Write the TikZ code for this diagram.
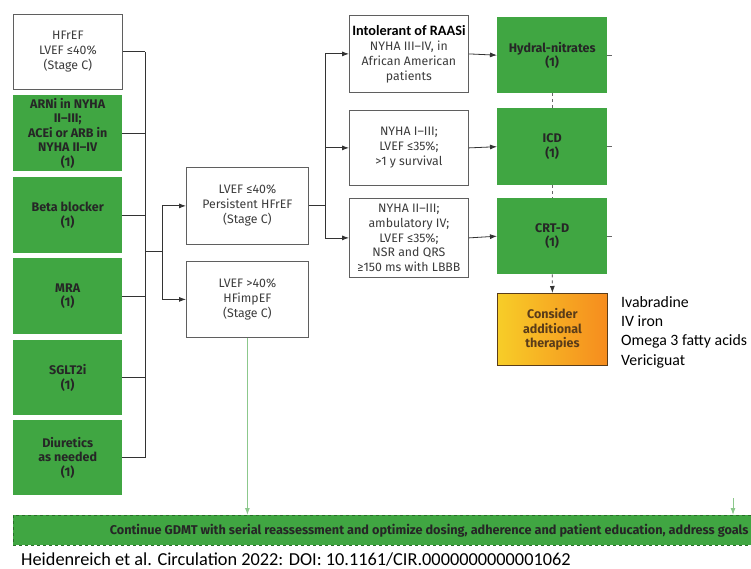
\documentclass[tikz,border=0pt]{standalone}
\usepackage{fontspec}
\setmainfont{Fira Sans}
\newfontfamily\calibri{Carlito}
\usetikzlibrary{calc, positioning, arrows.meta}
\definecolor{gdmtgreen}{RGB}{64,166,66}
\definecolor{gdmtdark}{RGB}{40,110,40}
\definecolor{flowgreen}{RGB}{140,200,140}
\definecolor{boxgray}{RGB}{95,95,95}
\definecolor{txtgray}{RGB}{60,60,60}
\definecolor{therayellow}{RGB}{247,205,40}
\definecolor{theraorange}{RGB}{246,140,30}
\definecolor{therabrown}{RGB}{90,60,25}

\begin{document}
\begin{tikzpicture}[x=1pt,y=-1pt,
  wbox/.style={draw=boxgray, line width=0.8pt, fill=white, text=txtgray, align=center,
    font=\fontsize{12.3}{15}\selectfont, inner sep=0pt, anchor=north west},
  gbox/.style={fill=gdmtgreen, text=black!85, align=center,
    font=\fontsize{12.5}{14.5}\selectfont\bfseries, inner sep=0pt, anchor=north west},
  link/.style={draw=black!80, line width=0.8pt},
  arr/.style={link, -{Latex[length=7pt,width=5pt]}},
  garr/.style={draw=flowgreen, line width=1pt, -{Latex[length=7pt,width=5pt]}},
  ]
\useasboundingbox (0,0) rectangle (751,569);

% left column
\node[wbox, minimum width=109pt, minimum height=75pt] (hfref) at (13,14) {HFrEF\\LVEF ≤40\%\\(Stage C)};
\node[gbox, minimum width=109pt, minimum height=76pt] (arni) at (13,95) {ARNi in NYHA\\II–III;\\ACEi or ARB in\\NYHA II–IV\\(1)};
\node[gbox, minimum width=109pt, minimum height=76pt] (beta) at (13,177) {Beta blocker\\(1)};
\node[gbox, minimum width=109pt, minimum height=76pt] (mra) at (13,258) {MRA\\(1)};
\node[gbox, minimum width=109pt, minimum height=75pt] (sglt) at (13,340) {SGLT2i\\(1)};
\node[gbox, minimum width=109pt, minimum height=75pt] (diur) at (13,420) {Diuretics\\as needed\\(1)};

\coordinate (jL) at (145,251);
\coordinate (jM) at (162,251);
\foreach \b in {hfref,arni,beta,mra,sglt,diur}
  \draw[link] (\b.east) -- (\b.east -| jL);
\draw[link] (hfref.east -| jL) -- (diur.east -| jL);
\draw[link] (jL) -- (jM);

% stage C after GDMT
\node[wbox, minimum width=122pt, minimum height=77pt] (persist) at (186,167) {LVEF ≤40\%\\Persistent HFrEF\\(Stage C)};
\node[wbox, minimum width=122pt, minimum height=76pt] (impef) at (186,261) {LVEF >40\%\\HFimpEF\\(Stage C)};
\draw[arr] (jM) |- (persist.west);
\draw[arr] (jM) |- (impef.west);

% criteria
\node[wbox, minimum width=119pt, minimum height=77pt] (intol) at (349,15) {{\calibri\fontsize{14.3}{15}\selectfont\bfseries\color{black}Intolerant of RAASi}\\NYHA III–IV, in\\African American\\patients};
\node[wbox, minimum width=119pt, minimum height=75pt] (icdcrit) at (349,110) {NYHA I–III;\\LVEF ≤35\%;\\>1 y survival};
\node[wbox, minimum width=119pt, minimum height=79pt, font=\fontsize{12.3}{14.6}\selectfont] (crtcrit) at (349,198) {NYHA II–III;\\ambulatory IV;\\LVEF ≤35\%;\\NSR and QRS\\≥150 ms with LBBB};

\coordinate (jR) at (325,0 |- persist.east);
\draw[link] (persist.east) -- (jR);
\draw[arr] (jR) |- (intol.west);
\draw[arr] (jR) |- (icdcrit.west);
\draw[arr] (jR) |- (crtcrit.west);

% therapies
\node[gbox, minimum width=110pt, minimum height=76pt] (hydral) at (497,17) {Hydral-nitrates\\(1)};
\node[gbox, minimum width=110pt, minimum height=77pt] (icd) at (497,108) {ICD\\(1)};
\node[gbox, minimum width=110pt, minimum height=76pt] (crtd) at (497,198) {CRT-D\\(1)};
\node[draw=therabrown, line width=0.8pt, left color=therayellow, right color=theraorange,
  text=therabrown, align=center, font=\fontsize{12.5}{14.5}\selectfont\bfseries,
  inner sep=0pt, anchor=north west, minimum width=110pt, minimum height=72pt] (consider) at (497,293) {Consider\\additional\\therapies};

\draw[arr] (intol.east) -- (hydral.west);
\draw[arr] (icdcrit.east) -- (icd.west);
\draw[arr] (crtcrit.east) -- (crtd.west);
\foreach \b in {hydral,icd,crtd}
  \draw[link, black!60] (\b.east) -- ++(5,0);
\draw[link, black!60, dashed, dash pattern=on 3pt off 3pt] (hydral.south) -- (icd.north);
\draw[link, black!60, dashed, dash pattern=on 3pt off 3pt] (icd.south) -- (crtd.north);
\draw[arr, dashed, dash pattern=on 3pt off 3pt] (crtd.south) -- (consider.north);

\node[anchor=north west, inner sep=0pt, align=left, font=\calibri\fontsize{15.8}{19.4}\selectfont] (extra) at (621,296)
  {Ivabradine\\IV iron\\Omega 3 fatty acids\\Vericiguat};

% continue GDMT
\node[fill=gdmtgreen, draw=gdmtdark, dashed, line width=0.8pt, anchor=north west,
  minimum width=738pt, minimum height=30pt, inner sep=0pt] (gdmt) at (13,515) {};
\node[anchor=east, inner sep=0pt, text=black!85, font=\fontsize{12.7}{14}\selectfont\bfseries] (gdmttxt) at ($(gdmt.east)+(-3,0)$)
  {Continue GDMT with serial reassessment and optimize dosing, adherence and patient education, address goals};
\coordinate (rtop) at (733,498);
\draw[garr] (impef.south) -- (impef.south |- gdmt.north);
\draw[garr] (rtop) -- (rtop |- gdmt.north);

\node[anchor=base west, inner sep=0pt, font=\calibri\fontsize{18.3}{20}\selectfont] (cite) at (21,565)
  {Heidenreich et al. Circulation 2022: DOI: 10.1161/CIR.0000000000001062};
\end{tikzpicture}
\end{document}
